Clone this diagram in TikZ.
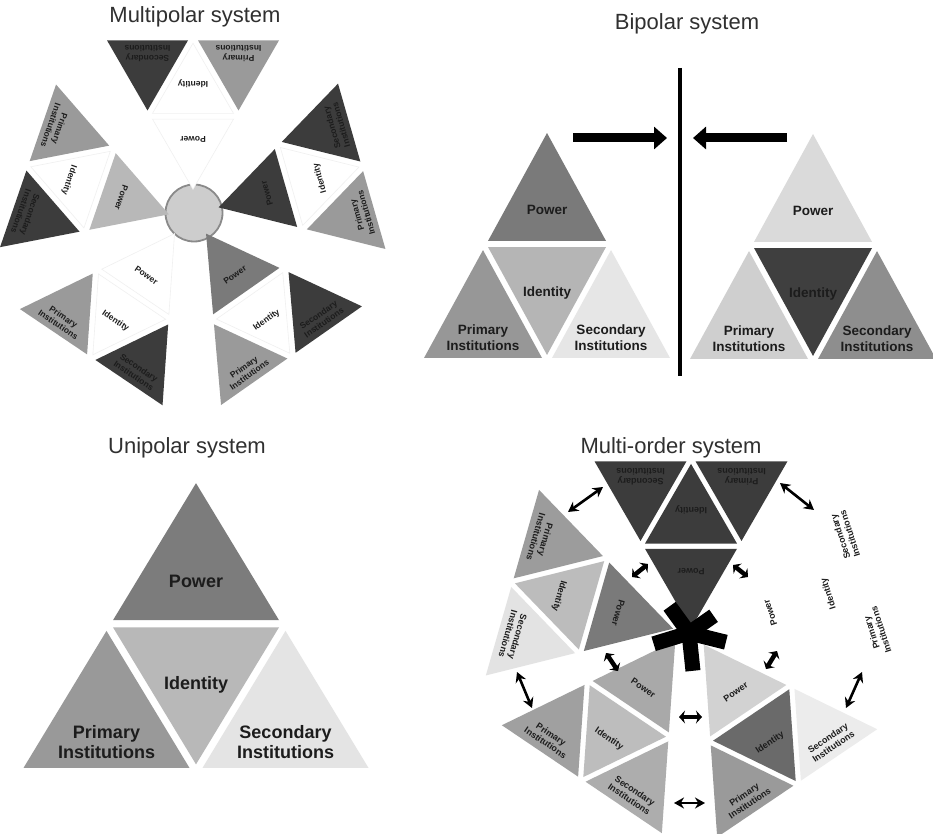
\documentclass[tikz,border=0pt]{standalone}
\usepackage{fontspec}
\setmainfont{Liberation Sans}
\usetikzlibrary{arrows.meta}
\definecolor{gD}{HTML}{3C3C3C}
\definecolor{gM}{HTML}{7A7A7A}
\definecolor{gP}{HTML}{9A9A9A}
\definecolor{gL}{HTML}{B8B8B8}
\definecolor{gV}{HTML}{E3E3E3}
\definecolor{gC}{HTML}{CDCDCD}
\definecolor{gB}{HTML}{8A8A8A}
\definecolor{txt}{HTML}{1C1C1C}
\definecolor{ttl}{HTML}{303030}

\newcommand{\trip}[5]{\path[#5] ({#1+#3*cos(#4)},{#2+#3*sin(#4)}) -- ({#1+#3*cos(#4+120)},{#2+#3*sin(#4+120)}) -- ({#1+#3*cos(#4+240)},{#2+#3*sin(#4+240)}) -- cycle;}
\newcommand{\cols}[4]{\tikzset{sP/.style={#1},sI/.style={#2},sA/.style={#3},sB/.style={#4}}}
% #1 name prefix, #2 x, #3 y (image px, downwards), #4 rotation, #5 grid side a, #6 triangle side s, #7 label style, #8 yscale
\newcommand{\grp}[8]{%
\begin{scope}[shift={(#2,-#3)},rotate=#4,yscale=#8]
\pgfmathsetmacro{\gA}{#5/sqrt(3)}%
\pgfmathsetmacro{\gR}{#6/sqrt(3)}%
\pgfmathsetmacro{\gH}{#6*sqrt(3)/2}%
\pgfmathsetmacro{\gX}{#5/2}%
\pgfmathsetmacro{\gY}{-\gA/2}%
\trip{0}{\gA}{\gR}{90}{sP}%
\trip{0}{0}{\gR}{270}{sI}%
\trip{-\gX}{\gY}{\gR}{90}{sA}%
\trip{\gX}{\gY}{\gR}{90}{sB}%
\node[#7,rotate=#4] (#1P) at (0,{\gA-0.05*\gH}) {Power};
\node[#7,rotate=#4] (#1I) at (0,{-0.09*\gH}) {Identity};
\node[#7,rotate=#4] (#1A) at (-\gX,{\gY-0.145*\gH}) {Primary\\Institutions};
\node[#7,rotate=#4] (#1B) at (\gX,{\gY-0.145*\gH}) {Secondary\\Institutions};
\end{scope}}

\tikzset{
 ttlsty/.style={font=\fontsize{22}{26}\selectfont, text=ttl, anchor=base, inner sep=0pt},
 lblU/.style={font=\bfseries\fontsize{18}{20}\selectfont, text=txt, align=center, inner sep=0pt},
 lblB/.style={font=\bfseries\fontsize{13.5}{15.5}\selectfont, text=txt, align=center, inner sep=0pt},
 lblS/.style={font=\bfseries\fontsize{8.5}{9.5}\selectfont, text=txt, align=center, inner sep=0pt},
 lblM/.style={font=\bfseries\fontsize{9}{10}\selectfont, text=txt, align=center, inner sep=0pt},
 wt/.style={fill=white, draw=black!6, line width=0.6pt},
 oar/.style={{Stealth[length=10pt,width=11pt]}-{Stealth[length=10pt,width=11pt]}, line width=2.6pt},
 iar/.style={{Stealth[length=6pt,width=13pt]}-{Stealth[length=6pt,width=13pt]}, line width=4.5pt},
 bar/.style={line width=9pt, -{Triangle[length=13pt,width=22pt]}}
}

\begin{document}
\begin{tikzpicture}[x=1pt,y=1pt]
\useasboundingbox[fill=white] (0,0) rectangle (933,-834);

% ---------------- Titles
\node[ttlsty] (tMulti) at (195,-23) {Multipolar system};
\node[ttlsty] (tBi) at (687,-30) {Bipolar system};
\node[ttlsty] (tUni) at (187,-453) {Unipolar system};
\node[ttlsty] (tMO) at (671,-453) {Multi-order system};

% ---------------- Multipolar
\node[circle, minimum size=57pt, inner sep=0pt, fill=gC, draw=gB, line width=1.8pt] (mphub) at (194,-213) {};
\cols{wt}{wt}{fill=gP}{fill=gD}
\grp{mpT}{193}{90}{180}{91}{81}{lblS}{1}
\cols{fill=gL}{wt}{fill=gP}{fill=gD}
\grp{mpL}{75}{182}{-109}{91}{81}{lblS}{1}
\cols{fill=gD}{wt}{fill=gP}{fill=gD}
\grp{mpR}{314}{180}{106}{91}{81}{lblS}{1}
\cols{wt}{wt}{fill=gP}{fill=gD}
\grp{mpBL}{119}{316}{-34}{91}{81}{lblS}{1}
\cols{fill=gM}{wt}{fill=gP}{fill=gD}
\grp{mpBR}{263}{315}{35}{91}{81}{lblS}{1}

% ---------------- Bipolar
\cols{fill=gM}{fill={rgb,255:red,181;green,181;blue,181}}{fill={rgb,255:red,151;green,151;blue,151}}{fill={rgb,255:red,230;green,230;blue,230}}
\grp{bpL}{547}{283}{0}{128}{118}{lblB}{1.056}
\cols{fill={rgb,255:red,218;green,218;blue,218}}{fill={rgb,255:red,63;green,63;blue,63}}{fill={rgb,255:red,207;green,207;blue,207}}{fill={rgb,255:red,142;green,142;blue,142}}
\grp{bpR}{813}{284}{0}{128}{118}{lblB}{1.056}
\coordinate (v1) at (680,-68);
\coordinate (v2) at (680,-376);
\draw[line width=3.5pt] (v1) -- (v2);
\coordinate (ba1) at (573,-138);
\coordinate (ba2) at (667,-138);
\coordinate (bb1) at (787,-138);
\coordinate (bb2) at (693,-138);
\draw[bar] (ba1) -- (ba2);
\draw[bar] (bb1) -- (bb2);

% ---------------- Unipolar
\cols{fill={rgb,255:red,124;green,124;blue,124}}{fill=gL}{fill={rgb,255:red,153;green,153;blue,153}}{fill={rgb,255:red,228;green,228;blue,228}}
\grp{up}{196}{673}{0}{179}{166}{lblU}{0.953}

% ---------------- Multi-order
\cols{fill=gD}{fill=gD}{fill=gD}{fill=gD}
\grp{moT}{691}{517}{180}{101}{92}{lblM}{1}
\cols{fill=gM}{fill={rgb,255:red,188;green,188;blue,188}}{fill={rgb,255:red,156;green,156;blue,156}}{fill=gV}
\grp{moUL}{566}{598}{-106}{101}{92}{lblM}{1}
\cols{fill=white}{fill=white}{fill=white}{fill=white}
\grp{moUR}{822}{596}{108}{101}{92}{lblM}{1}
\cols{fill={rgb,255:red,169;green,169;blue,169}}{fill={rgb,255:red,189;green,189;blue,189}}{fill={rgb,255:red,160;green,160;blue,160}}{fill={rgb,255:red,173;green,173;blue,173}}
\grp{moBL}{613}{733}{-34}{101}{92}{lblM}{1}
\cols{fill={rgb,255:red,210;green,210;blue,210}}{fill={rgb,255:red,106;green,106;blue,106}}{fill=gP}{fill={rgb,255:red,236;green,236;blue,236}}
\grp{moBR}{766}{737}{34}{101}{92}{lblM}{1}

\begin{scope}[shift={(689,-633)}]
\foreach \an/\ln in {126/33, 35/30, 197/37, -14/38, -84/38} {\fill[black,rotate=\an] (0,-7.5) rectangle (\ln,7.5);}
\fill[black] (0,0) circle (10);
\end{scope}

\coordinate (o1a) at (568,-512); \coordinate (o1b) at (603,-487);
\coordinate (o2a) at (780,-483); \coordinate (o2b) at (814,-510);
\coordinate (o3a) at (862,-672); \coordinate (o3b) at (846,-708);
\coordinate (o4a) at (517,-672); \coordinate (o4b) at (532,-708);
\coordinate (o5a) at (674,-803); \coordinate (o5b) at (705,-803);
\coordinate (i1a) at (632,-577); \coordinate (i1b) at (648,-564);
\coordinate (i2a) at (733,-565); \coordinate (i2b) at (748,-577);
\coordinate (i3a) at (606,-653); \coordinate (i3b) at (618,-671);
\coordinate (i4a) at (777,-651); \coordinate (i4b) at (766,-669);
\coordinate (i5a) at (679,-717); \coordinate (i5b) at (702,-717);
\foreach \p in {o1,o2,o3,o4,o5} {\draw[oar] (\p a) -- (\p b);}
\foreach \p in {i1,i2,i3,i4,i5} {\draw[iar] (\p a) -- (\p b);}
\end{tikzpicture}
\end{document}
